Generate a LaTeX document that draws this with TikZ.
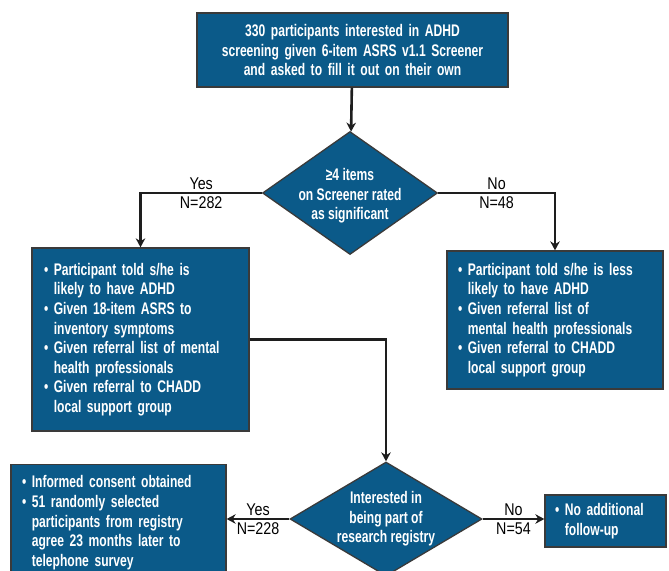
\documentclass[tikz,border=0pt]{standalone}
\usepackage{fontspec}
\setmainfont{Liberation Sans}[FakeStretch=0.72]
\newfontfamily\branchfont{Liberation Sans}[FakeStretch=0.84]
\usetikzlibrary{arrows.meta,positioning,shapes.geometric,calc}
\definecolor{StudyBlue}{HTML}{0B5A89}
\definecolor{EdgeGray}{HTML}{3A3A3A}
\definecolor{LineDark}{HTML}{1E1E1E}
\newcommand{\bul}{\textbullet\ }
\newcommand{\ind}{\phantom{\textbullet\ }}
\tikzset{
  infobox/.style={
    rectangle, draw=EdgeGray, line width=1.3pt, fill=StudyBlue, text=white,
    font=\fontsize{16.8}{19.6}\selectfont\bfseries, inner ysep=0pt, align=left
  },
  decision/.style={diamond, draw=EdgeGray, line width=1.3pt, fill=StudyBlue, inner sep=0pt},
  decisiontext/.style={text=white, font=\fontsize{16.8}{19.6}\selectfont\bfseries, align=center, inner sep=0pt},
  flowarrow/.style={-{Stealth[length=9pt,width=9.5pt]}, LineDark, line width=2.6pt},
  branchlabel/.style={font=\branchfont\fontsize{17}{19}\selectfont, text=black, inner sep=2.5pt},
}

\begin{document}
\begin{tikzpicture}[x=1pt, y=-1pt]
    \useasboundingbox (0,0) rectangle (669,570);
    \clip (0,0) rectangle (669,570);
    \node[infobox, align=center, text width=300pt, inner xsep=5.5pt, minimum height=74pt] (intake) at (352.5,50)
      {330 participants interested in ADHD\\ screening given 6-item ASRS v1.1 Screener\\ and asked to fill it out on their own};
    \node[decision, minimum width=175pt, minimum height=123pt] (screen) at (350,193) {};
    \node[decisiontext] (screentext) at ($(screen.center)+(0,3)$) {≥4 items\\ on Screener rated\\ as significant};
    \node[infobox, text width=193pt, inner xsep=12pt, minimum height=183pt] (likely) at (140.5,339.5)
      {\bul Participant told s/he is\\ \ind likely to have ADHD\\ \bul Given 18-item ASRS to\\ \ind inventory symptoms\\ \bul Given referral list of mental\\ \ind health professionals\\ \bul Given referral to CHADD\\ \ind local support group};
    \node[infobox, text width=194pt, inner xsep=11pt, minimum height=138pt] (unlikely) at (555,320)
      {\bul Participant told s/he is less\\ \ind likely to have ADHD\\ \bul Given referral list of\\ \ind mental health professionals\\ \bul Given referral to CHADD\\ \ind local support group};
    \node[decision, minimum width=192pt, minimum height=114pt] (registry) at (386,519) {};
    \node[decisiontext] (registrytext) at (registry.center) {Interested in\\ being part of\\ research registry};
    \node[infobox, anchor=north, text width=193pt, inner xsep=11pt, minimum height=116pt] (consent) at (118.5,464)
      {\bul Informed consent obtained\\ \bul 51 randomly selected\\ \ind participants from registry\\ \ind agree 23 months later to\\ \ind telephone survey};
    \node[infobox, text width=101pt, inner xsep=10pt, minimum height=52pt] (nofollow) at (605.5,521)
      {\bul No additional\\ \ind follow-up};

    \draw[flowarrow] (intake) -- (screen);
    \draw[flowarrow] (screen.west) -| node[branchlabel, pos=0.25, above] {Yes} node[branchlabel, pos=0.25, below] {N=282} (likely.north);
    \draw[flowarrow] (screen.east) -| node[branchlabel, pos=0.25, above] {No} node[branchlabel, pos=0.25, below] {N=48} (unlikely.north);
    \draw[flowarrow] (likely.east) -| (registry.north);
    \draw[flowarrow] (registry.west) -- node[branchlabel, above] {Yes} node[branchlabel, below] {N=228} (registry.west -| consent.east);
    \draw[flowarrow] (registry.east) -- node[branchlabel, above] {No} node[branchlabel, below] {N=54} (registry.east -| nofollow.west);
\end{tikzpicture}
\end{document}
